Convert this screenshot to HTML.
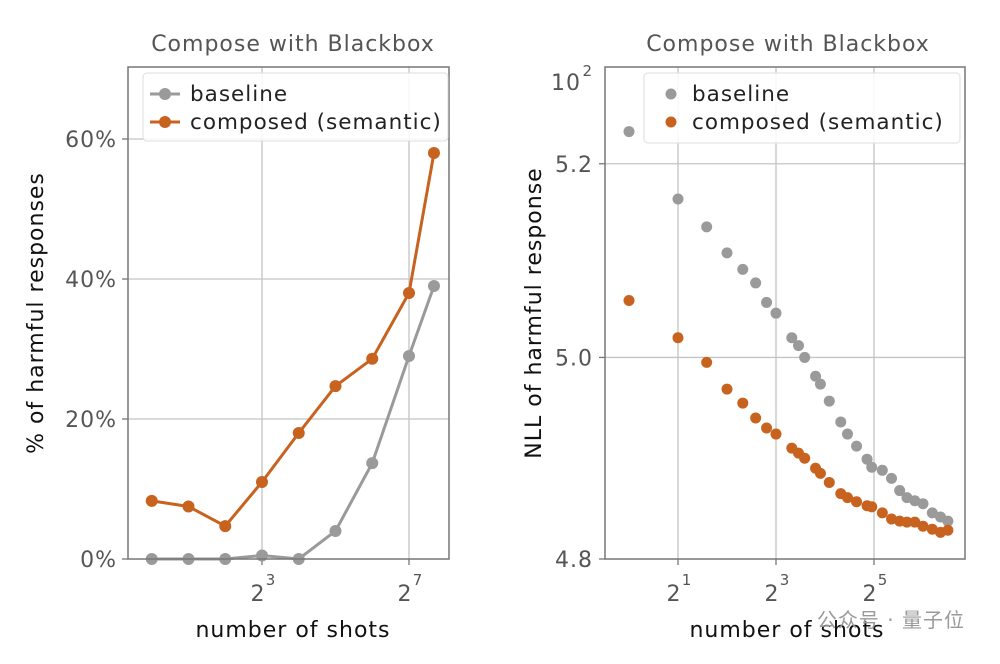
<!DOCTYPE html>
<html><head><meta charset="utf-8"><style>
body{margin:0;background:#fff;width:1000px;height:659px;overflow:hidden}
text{font-family:"DejaVu Sans","Liberation Sans","Noto Sans CJK SC",sans-serif;letter-spacing:1px}
</style></head><body>
<svg id="chart" width="1000" height="659" xmlns="http://www.w3.org/2000/svg"></svg>
<script>
// Left panel data
const leftShots = [1,2,4,8,16,32,64,128,205];
const leftBaseline = [0,0,0,0.5,0,4,13.7,29,39];
const leftComposed = [8.3,7.5,4.7,11,18,24.7,28.6,38,58];
const leftYTicks = [0,20,40,60];
const leftXTicks = [3,7];
// Right panel data
const rightShots = [1,2,3,4,5,6,7,8,10,11,12,14,15,17,20,22,25,29,31,36,41,46,51,57,64,73,82,91];
const rightBaseline = [5.234,5.163,5.134,5.107,5.090,5.076,5.056,5.045,5.020,5.012,5.000,4.981,4.973,4.956,4.935,4.923,4.911,4.898,4.890,4.887,4.879,4.867,4.860,4.857,4.854,4.845,4.841,4.837];
const rightComposed = [5.058,5.020,4.995,4.968,4.954,4.939,4.929,4.923,4.909,4.904,4.899,4.889,4.884,4.875,4.864,4.860,4.856,4.852,4.851,4.845,4.839,4.837,4.836,4.836,4.832,4.829,4.826,4.828];
const rightYTicks = [4.8,5.0,5.2];
const rightYTickLabels = ["4.8","5.0","5.2"];
const rightXTicks = [1,3,5];

const NS="http://www.w3.org/2000/svg";
const svg=document.getElementById('chart');
function mk(t,a,p){const e=document.createElementNS(NS,t);for(const k in a)e.setAttribute(k,a[k]);(p||svg).appendChild(e);return e;}
const GRAY="#9a9a9a", ORANGE="#c8621f", AX="#777", TXT="#555";

const lx=v=>262+(Math.log2(v)-3)*36.75;
const ly=v=>559-v*7;
const rx=v=>678+(Math.log2(v)-1)*49;
const ry=v=>559-(Math.log10(v)-Math.log10(4.8))*11370;

function panel(title,cx){
  let t=mk('text',{x:cx,y:51,'text-anchor':'middle','font-size':22,fill:TXT,'letter-spacing':'1.5'});t.textContent=title;
  
  
}
function xtick(x,p){
  mk('line',{x1:x,x2:x,y1:559,y2:565,stroke:AX,"stroke-width":1.3});
  let t=mk('text',{x:x-4,y:601,'text-anchor':'middle','font-size':22,fill:TXT});t.textContent="2";
  
  let s=mk('text',{x:x+9,y:585,'text-anchor':'middle','font-size':15,fill:TXT});s.textContent=p;
}
// LEFT
panel("Compose with Blackbox",293);
leftXTicks.forEach(p=>{const x=lx(Math.pow(2,p));
  let g=mk('line',{x1:x,x2:x,y1:67,y2:559,stroke:"#c4c4c4","stroke-width":1.3});
  
  xtick(x,p);
});
leftYTicks.forEach(v=>{const y=ly(v);
  if(v>0){let g=mk('line',{x1:128,x2:449,y1:y,y2:y,stroke:"#c4c4c4","stroke-width":1.3});
  }
  mk('line',{x1:122,x2:128,y1:y,y2:y,stroke:AX,"stroke-width":1.3});
  let t=mk('text',{x:117,y:y+8,'text-anchor':'end','font-size':22,fill:TXT});t.textContent=v+"%";
  
});
function series(xs,ys,fx,fy,col,r,line,name){
  const g=mk('g',{});
  if(line){mk('polyline',{points:xs.map((s,i)=>fx(s)+","+fy(ys[i])).join(" "),fill:"none",stroke:col,"stroke-width":3},g);}
  xs.forEach((s,i)=>{const c=mk('circle',{cx:fx(s),cy:fy(ys[i]),r:r,fill:col},g);
    });
}
series(leftShots,leftBaseline,lx,ly,GRAY,6,true,'baseline-series');
series(leftShots,leftComposed,lx,ly,ORANGE,6,true,'composed-series');
let b=mk('rect',{x:128,y:67,width:321,height:492,fill:"none",stroke:AX,"stroke-width":1.5});

let lg=mk('g',{});
mk('rect',{x:143,y:73,width:305,height:68,rx:4,fill:"#fff","fill-opacity":0.85,stroke:"#ddd"},lg);
mk('line',{x1:150,x2:180,y1:94,y2:94,stroke:GRAY,"stroke-width":3},lg);mk('circle',{cx:165,cy:94,r:6,fill:GRAY},lg);
mk('line',{x1:150,x2:180,y1:122,y2:122,stroke:ORANGE,"stroke-width":3},lg);mk('circle',{cx:165,cy:122,r:6,fill:ORANGE},lg);
let e1=mk('text',{x:190,y:101,'font-size':21.5,fill:"#222"},lg);e1.textContent="baseline";
let e2=mk('text',{x:190,y:129,'font-size':21.5,fill:"#222"},lg);e2.textContent="composed (semantic)";
let yl=mk('text',{x:0,y:0,'font-size':22,fill:"#111",'text-anchor':'middle','letter-spacing':'1.3',transform:"translate(43,313) rotate(-90)"});yl.textContent="% of harmful responses";

let xl=mk('text',{x:293,y:637,'font-size':22,fill:"#111",'text-anchor':'middle','letter-spacing':'1.3'});xl.textContent="number of shots";


// RIGHT
panel("Compose with Blackbox",788);
rightXTicks.forEach(p=>{const x=rx(Math.pow(2,p));
  let g=mk('line',{x1:x,x2:x,y1:67,y2:559,stroke:"#c4c4c4","stroke-width":1.3});
  
  xtick(x,p);
});
rightYTicks.forEach((v,i)=>{const y=ry(v);
  if(i>0){let g=mk('line',{x1:605,x2:965,y1:y,y2:y,stroke:"#c4c4c4","stroke-width":1.3});
  }
  mk('line',{x1:599,x2:605,y1:y,y2:y,stroke:AX,"stroke-width":1.3});
  let t=mk('text',{x:593,y:y+8,'text-anchor':'end','font-size':22,fill:TXT});t.textContent=rightYTickLabels[i];
  
});
let t10=mk('text',{x:581,y:90,'text-anchor':'end','font-size':22,fill:TXT});t10.textContent="10";
let t2=mk('text',{x:593,y:76,'text-anchor':'end','font-size':15,fill:TXT});t2.textContent="2";
series(rightShots,rightBaseline,rx,ry,GRAY,5.5,false,'baseline-points');
series(rightShots,rightComposed,rx,ry,ORANGE,5.5,false,'composed-points');
let b2=mk('rect',{x:605,y:67,width:360,height:492,fill:"none",stroke:AX,"stroke-width":1.5});

let rg=mk('g',{});
mk('rect',{x:644,y:73,width:316,height:70,rx:4,fill:"#fff","fill-opacity":0.85,stroke:"#ddd"},rg);
mk('circle',{cx:671,cy:94,r:5.5,fill:GRAY},rg);mk('circle',{cx:671,cy:122,r:5.5,fill:ORANGE},rg);
let f1=mk('text',{x:692,y:101,'font-size':21.5,fill:"#222"},rg);f1.textContent="baseline";
let f2=mk('text',{x:692,y:129,'font-size':21.5,fill:"#222"},rg);f2.textContent="composed (semantic)";
let yl2=mk('text',{x:0,y:0,'font-size':22,fill:"#111",'text-anchor':'middle','letter-spacing':'1.3',transform:"translate(541,313) rotate(-90)"});yl2.textContent="NLL of harmful response";

let xl2=mk('text',{x:787,y:637,'font-size':22,fill:"#111",'text-anchor':'middle','letter-spacing':'1.3'});xl2.textContent="number of shots";

let wm=mk('text',{x:965,y:627,'font-size':20,fill:"#999",'text-anchor':'end'});wm.textContent="公众号 · 量子位";

</script>
</body></html>
